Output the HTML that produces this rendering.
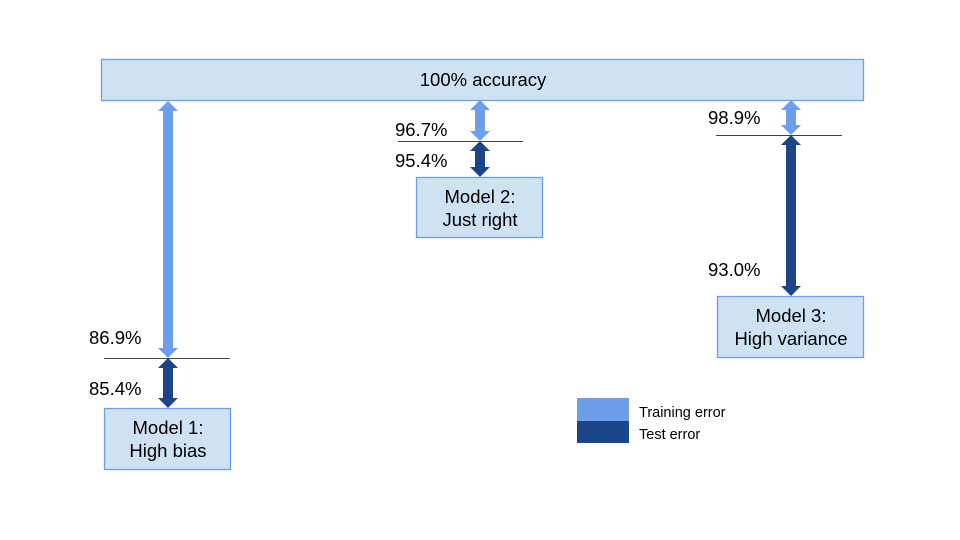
<!DOCTYPE html>
<html><head><meta charset="utf-8"><style>
html,body{margin:0;padding:0;background:#fff;}
svg{display:block;font-family:"Liberation Sans",sans-serif;}
</style></head><body>
<svg width="960" height="540" viewBox="0 0 960 540" xmlns="http://www.w3.org/2000/svg">
<rect x="0" y="0" width="960" height="540" fill="#fff"/>
<g fill="#cfe2f3" stroke="#6d9eeb" stroke-width="1.3">
<rect x="101.5" y="59.5" width="762" height="41"/>
<rect x="104.5" y="408.5" width="126" height="61"/>
<rect x="416.5" y="177.5" width="126" height="60"/>
<rect x="717.5" y="296.5" width="146" height="61"/>
</g>
<g stroke="#444" stroke-width="1">
<line x1="104" y1="358.5" x2="230" y2="358.5"/>
<line x1="398" y1="141.5" x2="523" y2="141.5"/>
<line x1="716" y1="135.5" x2="842" y2="135.5"/>
</g>
<g fill="#6d9eeb">
<polygon points="168,101 178,111 173,111 173,348 178,348 168,358 158,348 163,348 163,111 158,111"/>
<polygon points="480,100 490,110 485,110 485,131 490,131 480,141 470,131 475,131 475,110 470,110"/>
<polygon points="791,100 801,110 796,110 796,125 801,125 791,135 781,125 786,125 786,110 781,110"/>
</g>
<g fill="#1c4587">
<polygon points="168,358 178,368 173,368 173,398 178,398 168,408 158,398 163,398 163,368 158,368"/>
<polygon points="480,141 490,151 485,151 485,167 490,167 480,177 470,167 475,167 475,151 470,151"/>
<polygon points="791,135 801,145 796,145 796,286 801,286 791,296 781,286 786,286 786,145 781,145"/>
</g>
<rect x="577" y="398" width="52" height="23" fill="#6d9eeb"/>
<rect x="577" y="421" width="52" height="22" fill="#1c4587"/>
<g fill="#000" font-size="18.5">
<text x="483" y="86" text-anchor="middle">100% accuracy</text>
<text x="89" y="344">86.9%</text>
<text x="89" y="395">85.4%</text>
<text x="395" y="136">96.7%</text>
<text x="395" y="167">95.4%</text>
<text x="708" y="124">98.9%</text>
<text x="708" y="276">93.0%</text>
<text x="168" y="434" text-anchor="middle">Model 1:</text>
<text x="168" y="457" text-anchor="middle">High bias</text>
<text x="480" y="203" text-anchor="middle">Model 2:</text>
<text x="480" y="226" text-anchor="middle">Just right</text>
<text x="791" y="322" text-anchor="middle">Model 3:</text>
<text x="791" y="345" text-anchor="middle">High variance</text>
</g>
<g fill="#000" font-size="14.5">
<text x="639" y="417">Training error</text>
<text x="639" y="439">Test error</text>
</g>
</svg>
</body></html>
